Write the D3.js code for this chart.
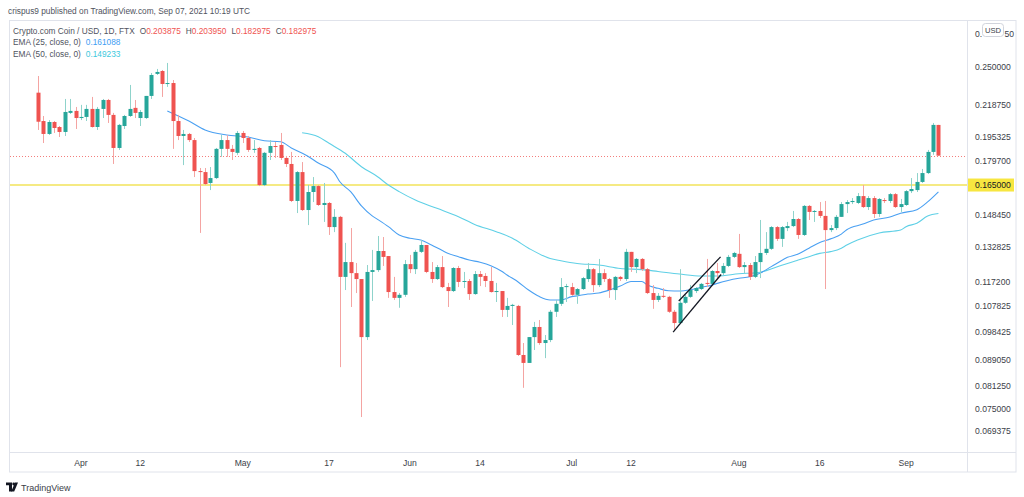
<!DOCTYPE html>
<html><head><meta charset="utf-8">
<script src="https://cdn.jsdelivr.net/npm/d3@7"></script>
<style>
html,body{margin:0;padding:0;background:#fff;}
svg{display:block;font-family:"Liberation Sans",Arial,sans-serif;}
</style></head><body>
<svg id="c" width="1024" height="497"></svg>
<script>
// ---------------- DATA ----------------
const startDate = "2021-03-24";
const open = [
.2284,.2067,.1975,.2060,.2024,.1989,.2127,.2142,.2089,.2097,
.2157,.2024,.2157,.2226,.2112,.1880,.2031,.2104,.2165,.2089,
.2089,.2258,.2440,.2465,.2355,.2363,.2067,.1961,.1975,.1933,
.1733,.1727,.1662,.1691,.1874,.1933,.1874,.1848,.1982,.1947,
.1867,.1880,.1650,.1848,.1893,.1900,.1815,.1777,.1560,.1727,
.1511,.1610,.1644,.1538,.1549,.1423,.1475,.1194,.1258,.1210,
.1185,.0966,.1215,.1223,.1308,.1285,.1132,.1109,.1121,.1249,
.1227,.1304,.1336,.1215,.1185,.1236,.1152,.1136,.1232,.1173,
.1177,.1124,.1206,.1198,.1177,.1132,.1136,.1063,.1078,.1078,
.0907,.0882,.0966,.1001,.0946,.0956,.1056,.1086,.1152,.1152,
.1121,.1144,.1185,.1227,.1160,.1210,.1185,.1140,.1194,.1185,
.1304,.1236,.1272,.1227,.1128,.1101,.1117,.1113,.1056,.1015,
.1090,.1113,.1136,.1144,.1169,.1165,.1219,.1210,.1241,.1281,
.1295,.1236,.1245,.1194,.1258,.1299,.1318,.1423,.1365,.1418,
.1428,.1464,.1384,.1533,.1501,.1506,.1480,.1408,.1418,.1475,
.1543,.1554,.1549,.1587,.1527,.1576,.1490,.1565,.1560,.1598,
.1527,.1538,.1615,.1621,.1668,.1721,.1854,.203875];
const high = [
.2422,.2104,.2074,.2067,.2031,.2234,.2234,.2172,.2188,.2188,
.2250,.2172,.2234,.2234,.2127,.2046,.2112,.2347,.2226,.2149,
.2258,.2448,.2483,.2474,.2536,.2388,.2112,.2003,.1982,.1947,
.1752,.1752,.1758,.1880,.1968,.1968,.1900,.1996,.1996,.1961,
.1933,.1887,.1854,.1933,.1920,.1982,.1828,.1854,.1733,.1789,
.1650,.1697,.1650,.1662,.1554,.1516,.1480,.1346,.1418,.1254,
.1185,.1245,.1313,.1379,.1374,.1285,.1194,.1128,.1267,.1290,
.1313,.1360,.1336,.1258,.1245,.1285,.1169,.1236,.1241,.1215,
.1185,.1219,.1219,.1210,.1236,.1169,.1136,.1109,.1086,.1082,
.0946,.0966,.1019,.1026,.0973,.1063,.1101,.1189,.1165,.1169,
.1148,.1194,.1254,.1232,.1272,.1227,.1189,.1198,.1198,.1318,
.1304,.1276,.1276,.1232,.1160,.1128,.1148,.1117,.1063,.1227,
.1121,.1160,.1152,.1169,.1272,.1223,.1254,.1254,.1290,.1304,
.1389,.1258,.1254,.1285,.1459,.1398,.1428,.1428,.1428,.1449,
.1506,.1469,.1538,.1538,.1511,.1554,.1560,.1433,.1485,.1554,
.1565,.1576,.1604,.1650,.1587,.1587,.1576,.1576,.1604,.1604,
.1571,.1621,.1691,.1721,.1746,.1867,.2053,.203950];
const low = [
.2003,.1913,.1968,.1982,.1954,.1961,.2119,.2010,.2074,.2067,
.2020,.2003,.2089,.2053,.1777,.1867,.2010,.2097,.2089,.2031,
.2082,.2234,.2431,.2250,.2331,.1874,.1933,.1770,.1920,.1697,
.1394,.1650,.1621,.1685,.1822,.1822,.1802,.1835,.1913,.1854,
.1848,.1644,.1644,.1802,.1815,.1802,.1758,.1554,.1495,.1506,
.1433,.1554,.1533,.1449,.1384,.1398,.0869,.1140,.1074,.1128,
.0729,.0956,.1097,.1215,.1241,.1109,.1101,.1071,.1113,.1210,
.1206,.1299,.1210,.1169,.1181,.1148,.1074,.1132,.1152,.1148,
.1101,.1121,.1156,.1152,.1130,.1093,.1037,.1037,.1008,.0904,
.0808,.0882,.0923,.0940,.0897,.0949,.1037,.1078,.1093,.1117,
.1086,.1140,.1173,.1132,.1152,.1173,.1109,.1101,.1177,.1177,
.1215,.1210,.1219,.1124,.1067,.1093,.1109,.1052,.0987,.1011,
.1086,.1109,.1128,.1140,.1152,.1160,.1189,.1202,.1236,.1276,
.1232,.1210,.1181,.1189,.1189,.1290,.1313,.1355,.1327,.1403,
.1423,.1365,.1379,.1459,.1449,.1469,.1144,.1398,.1408,.1475,
.1495,.1543,.1543,.1522,.1511,.1469,.1475,.1549,.1549,.1522,
.1501,.1533,.1604,.1610,.1662,.1715,.1835,.182975];
const close = [
.2062,.1975,.2060,.2017,.1989,.2134,.2142,.2089,.2097,.2157,
.2024,.2157,.2226,.2112,.1880,.2039,.2104,.2157,.2127,.2134,
.2258,.2431,.2457,.2355,.2363,.2067,.1961,.1975,.1933,.1733,
.1727,.1656,.1691,.1874,.1933,.1874,.1854,.1982,.1947,.1867,
.1874,.1650,.1848,.1893,.1887,.1815,.1777,.1560,.1727,.1511,
.1610,.1644,.1538,.1549,.1423,.1475,.1194,.1258,.1210,.1185,
.0966,.1215,.1223,.1308,.1281,.1132,.1109,.1121,.1249,.1227,
.1304,.1336,.1215,.1185,.1236,.1152,.1136,.1232,.1173,.1177,
.1124,.1206,.1194,.1177,.1132,.1136,.1063,.1078,.1082,.0907,
.0882,.0966,.1001,.0946,.0956,.1056,.1086,.1152,.1156,.1121,
.1144,.1189,.1227,.1160,.1210,.1185,.1140,.1194,.1185,.1304,
.1236,.1272,.1227,.1128,.1101,.1117,.1113,.1056,.1015,.1090,
.1113,.1140,.1148,.1165,.1165,.1219,.1210,.1241,.1281,.1299,
.1236,.1245,.1194,.1258,.1299,.1318,.1423,.1365,.1423,.1428,
.1464,.1384,.1533,.1501,.1506,.1480,.1408,.1418,.1475,.1543,
.1554,.1560,.1587,.1527,.1576,.1490,.1571,.1560,.1598,.1527,
.1543,.1615,.1627,.1668,.1721,.1854,.2039,.182975];

const ema25Bars = [24,28,31,35,39,42,45,47,50,52,55,56,58,60,62,63,65,67,69,71,73,75,76,78,80,82,84,86,87,89,91,93,95,97,99,100,102,104,106,108,110,112,113,115,117,119,121,123,125,126,128,130,132,134,136,137,139,141,143,145,147,149,150,153,155,158,160,163,165,167];
const ema25Vals = [.2142,.2067,.2003,.1968,.1954,.1928,.1922,.1880,.1828,.1783,.1721,.1669,.1612,.1533,.1480,.1462,.1425,.1384,.1368,.1360,.1336,.1310,.1298,.1282,.1267,.1257,.1242,.1218,.1202,.1174,.1140,.1114,.1101,.1101,.1114,.1117,.1124,.1128,.1140,.1156,.1175,.1175,.1160,.1147,.1137,.1136,.1141,.1151,.1160,.1167,.1179,.1188,.1195,.1211,.1238,.1252,.1279,.1294,.1321,.1348,.1365,.1388,.1410,.1438,.1459,.1474,.1494,.1513,.1555,.161088];
const ema50Bars = [49,52,54,57,60,63,65,67,70,74,78,81,85,88,91,95,97,100,104,108,112,115,119,123,126,130,134,137,139,141,143,145,147,149,150,152,156,160,161,163,165,167];
const ema50Vals = [.1984,.1956,.1911,.1845,.1760,.1699,.1650,.1612,.1565,.1520,.1476,.1436,.1400,.1368,.1321,.1274,.1264,.1252,.1245,.1230,.1225,.1217,.1206,.1198,.1198,.1207,.1214,.1236,.1252,.1267,.1282,.1297,.1305,.1321,.1336,.1360,.1394,.1408,.1425,.1442,.1479,.149233];

const priceTicks = [0.28125,0.25,0.21875,0.195325,0.1797,0.14845,0.132825,0.1172,0.107825,0.098425,0.08905,0.08125,0.075,0.069375];
const supportLevel = 0.165;
const timeTickDates = ["2021-04-01","2021-04-12","2021-05-01","2021-05-17","2021-06-01","2021-06-14","2021-07-01","2021-07-12","2021-08-01","2021-08-16","2021-09-01"];
const timeTickLabels = ["Apr","12","May","17","Jun","14","Jul","12","Aug","16","Sep"];
// flag channel lines: [barIndex, price] endpoints
const flagUpper = [[118.85,0.1097],[126.6,0.1281]];
const flagLower = [[117.8,0.0983],[126.7,0.1204]];

const titleText = "crispus9 published on TradingView.com, Sep 07, 2021 10:19 UTC";
const symbolText = "Crypto.com Coin / USD, 1D, FTX";
const ema25Label = "EMA (25, close, 0)";
const ema50Label = "EMA (50, close, 0)";

// ---------------- LAYOUT ----------------
const L = 10, R = 967, T = 20, B = 453, FR = 1016;
const DAY = 86400000;
const t0 = Date.parse(startDate + "T00:00:00Z");
const x = d3.scaleUtc()
  .domain([new Date(t0 - 5.17*DAY), new Date(t0 + 172.3*DAY)])
  .range([L, R]);
const y = d3.scaleLog().domain([0.06423, 0.2950]).range([B, T]);
const dateOf = i => new Date(t0 + i*DAY);
const fmt = v => v.toFixed(6);

const UP = "#26a69a", DOWN = "#ef5350";
const UPW = "#8fd3cb", DOWNW = "#f4a4a2";
const EMA25C = "#4aa0f2", EMA50C = "#5fd0e6";

const svg = d3.select("#c");
const fs = 8.6;

// frame
svg.append("rect").attr("x",9.5).attr("y",20.5).attr("width",FR-9.5).attr("height",451.5)
  .attr("fill","none").attr("stroke","#e0e3eb");
svg.append("line").attr("x1",R+0.5).attr("x2",R+0.5).attr("y1",20.5).attr("y2",472)
  .attr("stroke","#e0e3eb");
svg.append("line").attr("x1",9.5).attr("x2",FR).attr("y1",B-0.5).attr("y2",B-0.5)
  .attr("stroke","#e0e3eb");

svg.append("clipPath").attr("id","pc").append("rect")
  .attr("x",L).attr("y",T+1).attr("width",R-L).attr("height",B-T-2);
const plot = svg.append("g").attr("clip-path","url(#pc)");

// last price dotted line
const lastClose = close[close.length-1];
plot.append("line").attr("x1",L).attr("x2",R)
  .attr("y1",Math.round(y(lastClose))+0.5).attr("y2",Math.round(y(lastClose))+0.5)
  .attr("stroke",DOWN).attr("stroke-opacity",0.75).attr("stroke-dasharray","1,2");

// support level
plot.append("line").attr("x1",L).attr("x2",R)
  .attr("y1",y(supportLevel)).attr("y2",y(supportLevel))
  .attr("stroke","#f2e35a").attr("stroke-width",1.6);

// EMA lines
const line = d3.line().x(d=>x(dateOf(d[0]))).y(d=>y(d[1])).curve(d3.curveMonotoneX);
plot.append("path").datum(ema50Bars.map((b,i)=>[b,ema50Vals[i]]))
  .attr("d",line).attr("fill","none").attr("stroke",EMA50C).attr("stroke-width",1.1);
plot.append("path").datum(ema25Bars.map((b,i)=>[b,ema25Vals[i]]))
  .attr("d",line).attr("fill","none").attr("stroke",EMA25C).attr("stroke-width",1.1);

// candles
const candles = open.map((o,i)=>({i,o,h:high[i],l:low[i],c:close[i],up:close[i]>=o}));
const cg = plot.append("g");
cg.selectAll("line.w").data(candles).join("line").attr("class","w")
  .attr("x1",d=>Math.round(x(dateOf(d.i)))+0.5).attr("x2",d=>Math.round(x(dateOf(d.i)))+0.5)
  .attr("y1",d=>y(d.h)).attr("y2",d=>y(d.l))
  .attr("stroke",d=>d.up?UPW:DOWNW).attr("stroke-width",1);
cg.selectAll("rect.b").data(candles).join("rect").attr("class","b")
  .attr("x",d=>Math.round(x(dateOf(d.i)))-1.5)
  .attr("width",4)
  .attr("y",d=>y(Math.max(d.o,d.c)))
  .attr("height",d=>Math.max(1,y(Math.min(d.o,d.c))-y(Math.max(d.o,d.c))))
  .attr("fill",d=>d.up?UP:DOWN);

// flag lines
const fl = d3.line().x(d=>x(new Date(t0+d[0]*DAY))).y(d=>y(d[1]));
[flagUpper, flagLower].forEach(seg=>{
  plot.append("path").datum(seg).attr("d",fl).attr("stroke","#131722")
    .attr("stroke-width",1.3).attr("fill","none");
});

// price axis
const ya = svg.append("g");
priceTicks.forEach((v,i)=>{
  const t = ya.append("text").attr("x",975).attr("y",y(v)+3).attr("font-size",fs)
    .attr("fill","#3b3e48");
  if (i===0) {
    // top label is partly hidden behind the currency badge, as in the reference
    const s = fmt(v);
    t.append("tspan").text(s.slice(0,2));
    t.append("tspan").attr("x",1004.5).text(s.slice(-2));
  } else t.text(fmt(v));
});
// support label
svg.append("rect").attr("x",968).attr("y",y(supportLevel)-6.5).attr("width",46).attr("height",13)
  .attr("fill","#f7e640");
svg.append("text").attr("x",975).attr("y",y(supportLevel)+3).attr("font-size",fs)
  .attr("fill","#131722").text(fmt(supportLevel));
// USD badge
svg.append("rect").attr("x",982.5).attr("y",23.5).attr("width",21).attr("height",13).attr("rx",3)
  .attr("fill","#fff").attr("stroke","#d1d4dc");
svg.append("text").attr("x",993).attr("y",32.8).attr("text-anchor","middle").attr("font-size",7.6)
  .attr("fill","#3b3e48").text("USD");

// time axis
timeTickDates.forEach((d,i)=>{
  svg.append("text").attr("x",x(new Date(d+"T00:00:00Z"))).attr("y",466)
    .attr("text-anchor","middle").attr("font-size",fs).attr("fill","#3b3e48")
    .text(timeTickLabels[i]);
});

// header
const hfs = 8.3;
svg.append("text").attr("x",8).attr("y",14).attr("font-size",hfs).attr("fill","#50535e").text(titleText);
const lg = svg.append("text").attr("x",13).attr("y",33.5).attr("font-size",hfs).attr("fill","#50535e");
lg.append("tspan").text(symbolText);
const ohlc = [["O",open],["H",high],["L",low],["C",close]];
ohlc.forEach(([k,arr],j)=>{
  lg.append("tspan").attr("dx", 5).text(k);
  lg.append("tspan").attr("fill",DOWN).text(fmt(arr[arr.length-1]));
});
const l2 = svg.append("text").attr("x",13).attr("y",45).attr("font-size",hfs).attr("fill","#50535e");
l2.append("tspan").text(ema25Label);
l2.append("tspan").attr("dx",5).attr("fill","#3d9df3").text(fmt(ema25Vals[ema25Vals.length-1]));
const l3 = svg.append("text").attr("x",13).attr("y",56.5).attr("font-size",hfs).attr("fill","#50535e");
l3.append("tspan").text(ema50Label);
l3.append("tspan").attr("dx",5).attr("fill","#3cc8dd").text(fmt(ema50Vals[ema50Vals.length-1]));

// footer logo + text
const logo = svg.append("g").attr("fill","#131722");
logo.append("path").attr("d","M6 482.5 h6 v9 h-3 v-6.2 h-3 z");
logo.append("circle").attr("cx",13.7).attr("cy",484).attr("r",1.4);
logo.append("path").attr("d","M15 482.5 h3 l-3.8 9 h-3 z");
svg.append("text").attr("x",21).attr("y",491).attr("font-size",9).attr("fill","#3b3e48").text("TradingView");
</script>
</body></html>
